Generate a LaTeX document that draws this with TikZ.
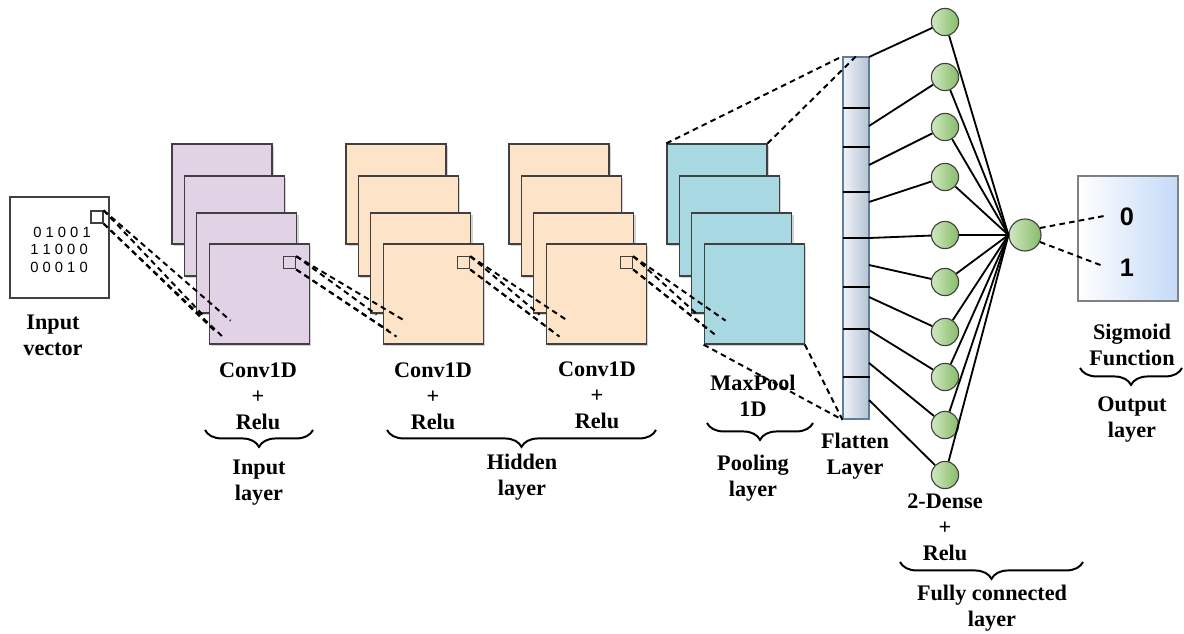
\documentclass[tikz,border=0pt]{standalone}
\usepackage{fontspec}
\setmainfont{Liberation Serif}
\newfontfamily\arialfont{Liberation Sans}
\usetikzlibrary{calc,positioning,shadows,decorations.pathreplacing}
\definecolor{lilac}{RGB}{225,210,229}
\definecolor{peach}{RGB}{253,228,201}
\definecolor{aqua}{RGB}{168,216,226}
\definecolor{edgegray}{RGB}{64,64,64}
\definecolor{leafgreen}{RGB}{135,188,105}
\definecolor{palegreen}{RGB}{208,232,192}
\definecolor{barblue}{RGB}{96,125,160}
\definecolor{barlight}{RGB}{240,243,248}
\definecolor{barshade}{RGB}{180,194,212}
\definecolor{skyblue}{RGB}{196,218,248}

\tikzset{
  sheet/.style={draw=edgegray, line width=0.9pt, minimum width=2.5cm, minimum height=2.5cm, inner sep=0pt,
    drop shadow={shadow xshift=1.2pt, shadow yshift=-1.2pt, opacity=0.35}},
  kern/.style={draw=edgegray, line width=0.9pt, minimum size=0.3cm, inner sep=0pt},
  neuron/.style={circle, draw=edgegray, line width=0.8pt, minimum size=0.68cm, inner sep=0pt,
    left color=palegreen, right color=leafgreen},
  dashln/.style={dashed, line width=1.4pt, dash pattern=on 4pt off 3pt},
  wire/.style={line width=1.3pt},
  lbl/.style={font=\fontsize{15.8}{18.5}\selectfont\bfseries, align=center},
  bits/.style={font=\arialfont\fontsize{10.5}{12.5}\selectfont},
  brc/.style={decorate, decoration={brace, mirror, amplitude=12pt}, line width=1.4pt}
}

\begin{document}
\begin{tikzpicture}[x=0.025cm, y=-0.025cm]
  \useasboundingbox (0,0) rectangle (1184,633);

  % Input vector
  \node[draw=edgegray, line width=0.9pt, minimum width=2.48cm, minimum height=2.52cm, inner sep=0pt] (inp) at (59.5,247.5) {};
  \node[bits] (row1) at (62,232) {0 1 0 0 1};
  \node[bits] (row2) at (59,249) {1 1 0 0 0};
  \node[bits] (row3) at (59,267) {0 0 0 1 0};
  \node[kern] (k0) at (97,217) {};

  % Feature map stacks
  \foreach \s/\x/\col in {1/172/lilac, 2/346/peach, 3/509/peach, 4/667/aqua} {
    \foreach \i/\dx/\ty in {1/0/144, 2/12.4/176, 3/24.8/213, 4/37.2/244} {
      \node[sheet, fill=\col] (c\s s\i) at (\x+50+\dx, \ty+50) {};
    }
  }
  \foreach \s in {1,2,3} {
    \node[kern] (k\s) at ($(c\s s4.north west)+(81,19.5)$) {};
  }

  % Receptive field lines
  \foreach \a/\b in {0/1, 1/2, 2/3, 3/4} {
    \coordinate (ta\a) at ($(c\b s4.south west)+(-6,-30)$);
    \coordinate (tb\a) at ($(c\b s4.south west)+(22,-24)$);
    \coordinate (tc\a) at ($(c\b s4.south west)+(6,-14)$);
    \coordinate (td\a) at ($(c\b s4.south west)+(14,-8)$);
    \draw[dashln] (k\a.north east) -- (ta\a);
    \draw[dashln] (k\a.north east) -- (tb\a);
    \draw[dashln] (k\a.south east) -- (tc\a);
    \draw[dashln] (k\a.south east) -- (td\a);
  }

  % Flatten layer
  \node[draw=barblue, line width=0.9pt, left color=barlight, right color=barshade,
    minimum width=0.65cm, minimum height=9.05cm, inner sep=0pt] (flat) at (856,238) {};
  \foreach \yy in {108,147,192,238,287,329,377} {
    \draw[line width=1.5pt] (843,\yy) -- (870,\yy);
  }
  \draw[dashln] (c4s1.north west) -- (flat.north west);
  \draw[dashln] (c4s1.north east) -- (flat.north);
  \draw[dashln] (c4s4.south west) -- (flat.south west);
  \draw[dashln] (c4s4.south east) -- (flat.south west);

  % Dense layer
  \foreach \n/\fy/\hy in {1/57/22, 2/126/77, 3/165/127, 4/202/177, 5/238/235,
                          6/265/282, 7/297/332, 8/330/377, 9/363/425, 10/400/475} {
    \coordinate (f\n) at (869,\fy);
    \node[neuron] (h\n) at (945,\hy) {};
  }
  \node[neuron, minimum size=0.8cm] (out) at (1025,235) {};
  \foreach \n in {1,...,10} {
    \draw[wire] (f\n) -- (h\n);
    \draw[wire] (h\n) -- (out.west);
  }

  % Output
  \node[draw=gray, line width=0.9pt, left color=white, right color=skyblue,
    minimum width=2.5cm, minimum height=3.125cm, inner sep=0pt] (sig) at (1128,238.5) {};
  \node[font=\arialfont\fontsize{18}{20}\selectfont\bfseries] (zero) at (1127,217) {0};
  \node[font=\arialfont\fontsize{18}{20}\selectfont\bfseries] (one) at (1127,268) {1};
  \coordinate (z0) at (1104,216);
  \coordinate (z1) at (1103,266);
  \draw[dashln] (out.25) -- (z0);
  \draw[dashln] (out.-25) -- (z1);

  % Labels
  \node[lbl] (invec) at (53,335) {Input\\vector};
  \node[lbl] (cv1) at (258,396) {Conv1D\\+\\Relu};
  \node[lbl] (cv2) at (433,396) {Conv1D\\+\\Relu};
  \node[lbl] (cv3) at (597,395) {Conv1D\\+\\Relu};
  \node[lbl] (mp) at (753,396) {MaxPool\\1D};
  \node[lbl] (fl) at (855,456) {Flatten\\Layer};
  \node[lbl] (dn) at (945,527) {2-Dense\\+\\Relu};
  \node[lbl] (sg) at (1132,345) {Sigmoid\\Function};

  % Braces
  \draw[brc] (205,430) -- (313,430);
  \draw[brc] (387,430) -- (656,430);
  \draw[brc] (707,423) -- (813,423);
  \draw[brc] (1080,368) -- (1182,368);
  \draw[brc] (900,562) -- (1083,562);
  \node[lbl] (inl) at (259,483) {Input\\layer};
  \node[lbl] (hdl) at (522,477) {Hidden\\layer};
  \node[lbl] (pll) at (753,478) {Pooling\\layer};
  \node[lbl] (oul) at (1132,420) {Output\\layer};
  \node[lbl] (fcl) at (992,608) {Fully connected\\layer};
\end{tikzpicture}
\end{document}
